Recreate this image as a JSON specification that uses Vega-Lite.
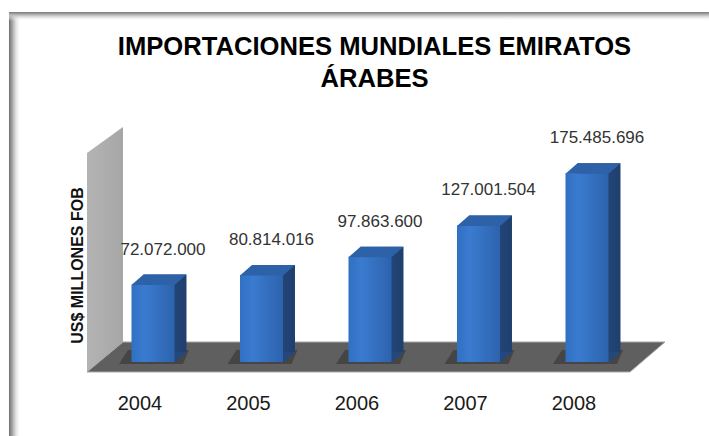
{
  "$schema": "https://vega.github.io/schema/vega-lite/v6.json",
  "width": 709,
  "height": 436,
  "padding": 0,
  "autosize": {"type": "none"},
  "background": "#ffffff",
  "config": {
    "view": {"stroke": null},
    "locale": {"number": {"decimal": ",", "thousands": ".", "grouping": [3], "currency": ["$", ""]}},
    "axis": {"labelFont": "Liberation Sans", "titleFont": "Liberation Sans"}
  },
  "title": {
    "text": ["IMPORTACIONES MUNDIALES EMIRATOS", "ÁRABES"],
    "font": "Liberation Sans",
    "fontSize": 25.6,
    "fontWeight": "bold",
    "color": "#000000",
    "lineHeight": 32,
    "anchor": "middle",
    "orient": "top",
    "offset": -93,
    "dx": 20
  },
  "data": {
    "values": [
      {"year": "2004", "value": 72072000},
      {"year": "2005", "value": 80814016},
      {"year": "2006", "value": 97863600},
      {"year": "2007", "value": 127001504},
      {"year": "2008", "value": 175485696}
    ]
  },
  "layer": [
    {
      "data": {"values": [{}]},
      "mark": {"type": "point", "filled": true, "opacity": 1, "size": 4, "strokeWidth": 0,
        "shape": "M-144,-350H-132V74H-144Z",
        "fill": {"gradient": "linear", "x1": 0, "x2": 1, "y1": 0, "y2": 0,
          "stops": [{"offset": 0, "color": "#6f6f6f"}, {"offset": 0.35, "color": "#b5b5b5"}, {"offset": 1, "color": "rgba(255,255,255,0)"}]}},
      "encoding": {"x": {"datum": "2004", "type": "ordinal"}, "y": {"datum": 0, "type": "quantitative"}}
    },
    {
      "data": {"values": [{}]},
      "mark": {"type": "point", "filled": true, "opacity": 1, "size": 4, "strokeWidth": 0,
        "shape": "M-144,-350H556V-341H-144Z",
        "fill": {"gradient": "linear", "x1": 0, "x2": 0, "y1": 0, "y2": 1,
          "stops": [{"offset": 0, "color": "#787878"}, {"offset": 0.35, "color": "#bdbdbd"}, {"offset": 1, "color": "rgba(255,255,255,0)"}]}},
      "encoding": {"x": {"datum": "2004", "type": "ordinal"}, "y": {"datum": 0, "type": "quantitative"}}
    },
    {
      "data": {"values": [{}]},
      "mark": {"type": "point", "filled": true, "opacity": 1, "size": 4, "strokeWidth": 0,
        "shape": "M-66,10L-66,-209L-30,-235L-30,-20Z",
        "fill": {"gradient": "linear", "x1": 0, "x2": 1, "y1": 0, "y2": 0,
          "stops": [{"offset": 0, "color": "#b4b4b4"}, {"offset": 1, "color": "#a6a6a6"}]}},
      "encoding": {"x": {"datum": "2004", "type": "ordinal"}, "y": {"datum": 0, "type": "quantitative"}}
    },
    {
      "data": {"values": [{}]},
      "mark": {"type": "point", "filled": true, "opacity": 1, "size": 4,
        "shape": "M-66,10L-30,-20L512,-20L477,10Z",
        "fill": "#5f5f5f", "stroke": "#a8a8a8", "strokeWidth": 1},
      "encoding": {"x": {"datum": "2004", "type": "ordinal"}, "y": {"datum": 0, "type": "quantitative"}}
    },
    {
      "mark": {"type": "point", "filled": true, "opacity": 0.6, "size": 4, "strokeWidth": 0,
        "shape": "M-34,2L-25,-12L36,-12L30,2Z", "fill": "#333333"},
      "encoding": {"x": {"field": "year", "type": "ordinal"}, "y": {"datum": 0, "type": "quantitative"}}
    },
    {
      "mark": {"type": "bar", "width": {"band": 0.3963}, "xOffset": 12, "yOffset": -10, "y2Offset": -10,
        "fill": {"gradient": "linear", "x1": 0, "x2": 1, "y1": 0, "y2": 0,
          "stops": [{"offset": 0, "color": "#2a5592"}, {"offset": 1, "color": "#1f3f6d"}]}},
      "encoding": {"x": {"field": "year", "type": "ordinal"}, "y": {"field": "value", "type": "quantitative"}}
    },
    {
      "mark": {"type": "point", "filled": true, "opacity": 1, "size": 4, "strokeWidth": 0,
        "shape": "M21.5,0.5L21.5,-10L33.5,-10Z", "fill": "#22487f"},
      "encoding": {"x": {"field": "year", "type": "ordinal"}, "y": {"datum": 0, "type": "quantitative"}}
    },
    {
      "mark": {"type": "bar", "width": {"band": 0.3963},
        "fill": {"gradient": "linear", "x1": 0, "x2": 1, "y1": 0, "y2": 0,
          "stops": [{"offset": 0, "color": "#3170c2"}, {"offset": 0.3, "color": "#3a7bd0"}, {"offset": 1, "color": "#2d63ad"}]}},
      "encoding": {
        "x": {"field": "year", "type": "ordinal",
          "scale": {"type": "band", "paddingInner": 0, "paddingOuter": 0.7673, "align": 0.593},
          "axis": {"title": null, "orient": "bottom", "offset": -33, "domain": false, "ticks": false, "tickSize": 0,
            "labelPadding": 0, "labelBaseline": "middle", "labelAlign": "center", "labelAngle": 0, "labelOffset": -13,
            "labelFontSize": 20, "labelColor": "#1a1a1a", "grid": false}},
        "y": {"field": "value", "type": "quantitative",
          "scale": {"domain": [-68840000, 336740000], "nice": false, "zero": false},
          "axis": {"title": "US$ MILLONES FOB", "labels": false, "ticks": false, "domain": false, "grid": false,
            "titleX": 77, "titleY": 265, "titleAngle": -90, "titleAlign": "center", "titleBaseline": "middle",
            "titleFontSize": 16, "titleFontWeight": "bold", "titleColor": "#111111"}}
      }
    },
    {
      "mark": {"type": "point", "filled": true, "opacity": 1, "size": 4, "strokeWidth": 0,
        "shape": "M-21.5,0.5L-9.5,-10L33.5,-10L21.5,0.5Z", "fill": "#2e62a8"},
      "encoding": {"x": {"field": "year", "type": "ordinal"}, "y": {"field": "value", "type": "quantitative"}}
    },
    {
      "mark": {"type": "text", "font": "Liberation Sans", "fontSize": 17, "color": "#333333", "dx": 10, "dy": -35, "baseline": "middle"},
      "encoding": {
        "x": {"field": "year", "type": "ordinal"},
        "y": {"field": "value", "type": "quantitative"},
        "text": {"field": "value", "type": "quantitative", "format": ",.0f"}
      }
    }
  ]
}
